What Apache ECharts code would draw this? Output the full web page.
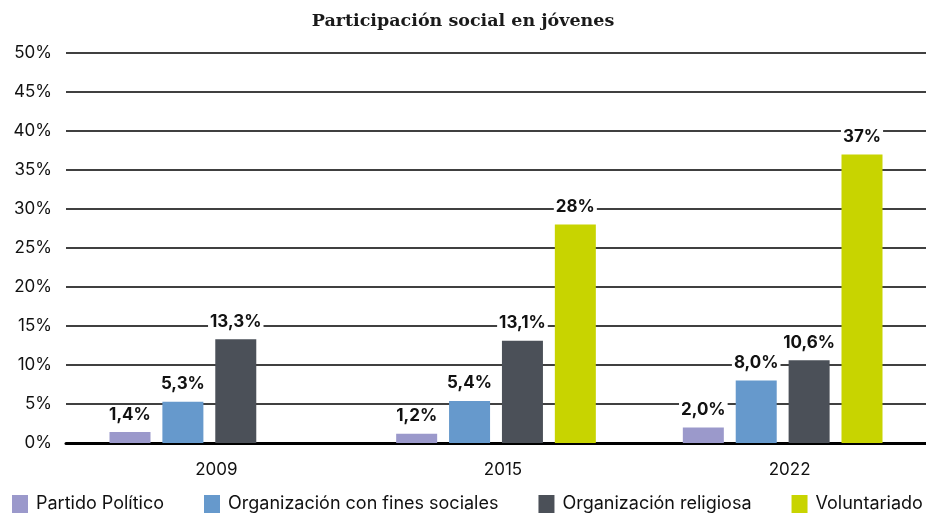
<!DOCTYPE html>
<html>
<head>
<meta charset="utf-8">
<script src="https://cdn.jsdelivr.net/npm/echarts@6/dist/echarts.min.js"></script>
<style>
  html, body { margin: 0; padding: 0; background: #fff; }
  #chartmain { width: 926px; height: 519px; }
</style>
</head>
<body>
<div id="chartmain"></div>
<script>
var years = ['2009', '2015', '2022'];
var seriesNames = ['Partido Político', 'Organización con fines sociales', 'Organización religiosa', 'Voluntariado'];
var partido = [1.4, 1.2, 2.0];
var organizacion = [5.3, 5.4, 8.0];
var religiosa = [13.3, 13.1, 10.6];
var voluntariado = [null, 28, 37];
var colors = ['#9b99cb', '#6699cc', '#4b5058', '#c8d400'];

function fmt(p) {
    var v = p.value;
    return (v >= 20 ? v.toFixed(0) : v.toFixed(1)).replace('.', ',') + '%';
}

function bar(name, data, color) {
    return {
        name: name,
        type: 'bar',
        data: data,
        barWidth: 41,
        barGap: '29%',
        itemStyle: { color: color },
        label: {
            show: true,
            position: 'top',
            distance: 9,
            formatter: fmt,
            color: '#111',
            fontFamily: 'Inter',
            fontWeight: 'bold',
            fontSize: 17,
            backgroundColor: '#fff',
            padding: [0, 2]
        }
    };
}

window.onload = function(){
    var option = {
        animation: false,
        title: {
            text: 'Participación social en jóvenes',
            left: 'center',
            top: 7,
            textStyle: { fontFamily: 'DejaVu Serif', fontWeight: 'bold', fontSize: 17.5, color: '#1a1a1a' }
        },
        legend: {
            bottom: 6,
            left: 12,
            right: 0,
            padding: 0,
            itemWidth: 16,
            itemHeight: 18,
            itemGap: 40,
            icon: 'rect',
            textStyle: { fontFamily: 'Inter', fontSize: 18, color: '#111', padding: [0, 0, 0, 3] },
            data: seriesNames
        },
        grid: { left: 66, right: 0, top: 53, bottom: 76 },
        xAxis: {
            type: 'category',
            data: years,
            axisTick: { show: false },
            axisLine: { lineStyle: { color: '#000', width: 3 } },
            axisLabel: { fontFamily: 'Inter', fontSize: 17, color: '#111', margin: 18, padding: [0, 0, 0, 14] }
        },
        yAxis: {
            type: 'value',
            min: 0,
            max: 50,
            interval: 5,
            axisLine: { show: false },
            axisTick: { show: false },
            splitLine: { lineStyle: { color: '#000', width: 1.5 } },
            axisLabel: {
                formatter: '{value}%',
                fontFamily: 'Inter',
                fontSize: 17,
                color: '#111',
                margin: 14
            }
        },
        series: [
            bar(seriesNames[0], partido, colors[0]),
            bar(seriesNames[1], organizacion, colors[1]),
            bar(seriesNames[2], religiosa, colors[2]),
            bar(seriesNames[3], voluntariado, colors[3])
        ]
    };
    var myChart = echarts.init(document.getElementById('chartmain'));
    myChart.setOption(option);
};
</script>
</body>
</html>
